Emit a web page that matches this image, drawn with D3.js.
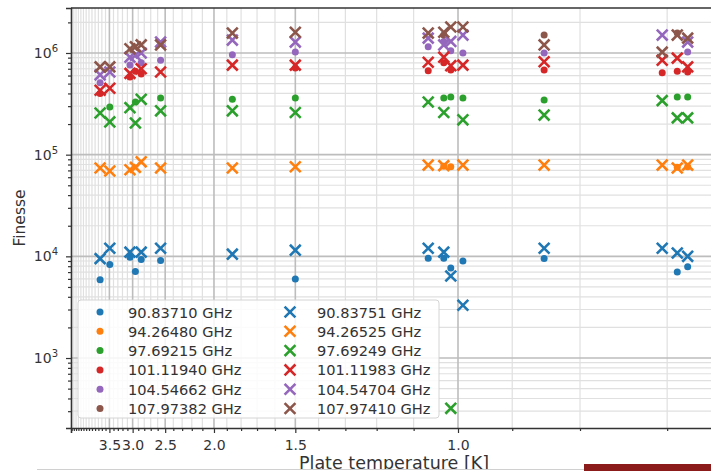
<!DOCTYPE html>
<html>
<head>
<meta charset="utf-8">
<script src="https://cdn.jsdelivr.net/npm/d3@7"></script>
<style>
  body { margin: 0; background: #fff; }
  svg { display: block; font-family: "DejaVu Sans", sans-serif; }
</style>
</head>
<body>
<div id="chart"></div>
<script>
// plate temperatures [K] where the runs were taken
const temps = [3.75, 3.49, 3.05, 2.95, 2.85, 2.56, 1.86, 1.5, 1.065, 1.03, 1.015, 0.99, 0.85, 0.705, 0.69, 0.68];

// finesse per mode, aligned with temps (null = no point)
const dot90  = [5.9e3, 8.3e3, 9.8e3, 7.1e3, 9.3e3, 9.1e3, null, 6.0e3, 9.6e3, 9.6e3, 7.7e3, 9.0e3, 9.5e3, null, 7.0e3, 7.9e3];
const x90    = [9.5e3, 1.2e4, 1.1e4, null, 1.1e4, 1.2e4, 1.05e4, 1.15e4, 1.2e4, 1.1e4, 6.4e3, 3.3e3, 1.2e4, 1.2e4, 1.08e4, 1.0e4];
const dot94  = [null, null, null, null, null, null, null, null, null, 7.7e4, 7.6e4, null, null, null, 7.5e4, 7.6e4];
const x94    = [7.4e4, 6.9e4, 7.1e4, 7.5e4, 8.5e4, 7.4e4, 7.4e4, 7.6e4, 7.9e4, 7.8e4, null, 7.9e4, 7.9e4, 7.9e4, 7.4e4, 7.9e4];
const dot97  = [null, 2.95e5, null, 3.3e5, null, 3.6e5, 3.5e5, 3.6e5, null, 3.6e5, 3.7e5, 3.6e5, 3.45e5, null, 3.7e5, 3.7e5];
const x97    = [2.57e5, 2.1e5, 2.9e5, 2.05e5, 3.5e5, 2.7e5, 2.7e5, 2.6e5, 3.3e5, 2.6e5, 3.2e2, 2.2e5, 2.45e5, 3.4e5, 2.3e5, 2.3e5];
const dot101 = [4.0e5, null, 5.8e5, 6.6e5, 6.2e5, null, null, 7.1e5, 6.7e5, 8.0e5, 6.8e5, null, 6.8e5, 6.4e5, 6.6e5, 6.5e5];
const x101   = [4.3e5, 4.5e5, 6.3e5, null, 7.0e5, 6.5e5, 7.6e5, 7.6e5, 8.1e5, 9.1e5, 7.5e5, 7.6e5, 8.2e5, 8.5e5, 8.9e5, 7.3e5];
const dot104 = [5.1e5, null, 7.6e5, null, 8.0e5, 8.5e5, 9.6e5, 1.02e6, 1.15e6, 1.3e6, 1.05e6, 1.0e6, 1.0e6, null, null, 1.02e6];
const x104   = [6.1e5, 6.5e5, 9.1e5, 9.5e5, 1.0e6, 1.28e6, 1.34e6, 1.28e6, 1.4e6, 1.2e6, 1.3e6, 1.5e6, null, 1.5e6, null, 1.28e6];
const dot107 = [null, null, null, null, null, null, null, null, null, 1.5e6, null, null, 1.5e6, null, 1.57e6, null];
const x107   = [7.3e5, 7.3e5, 1.1e6, 1.15e6, 1.2e6, 1.2e6, 1.57e6, 1.6e6, 1.57e6, 1.6e6, 1.8e6, 1.8e6, 1.2e6, 1.02e6, 1.5e6, 1.4e6];

const dotLabels   = ["90.83710 GHz", "94.26480 GHz", "97.69215 GHz", "101.11940 GHz", "104.54662 GHz", "107.97382 GHz"];
const crossLabels = ["90.83751 GHz", "94.26525 GHz", "97.69249 GHz", "101.11983 GHz", "104.54704 GHz", "107.97410 GHz"];
const dotSeries   = [dot90, dot94, dot97, dot101, dot104, dot107];
const crossSeries = [x90, x94, x97, x101, x104, x107];

const majorT = [3.5, 3.0, 2.5, 2.0, 1.5, 1.0];
const yMajor = [1e3, 1e4, 1e5, 1e6];

const colors = ["#1f77b4", "#ff7f0e", "#2ca02c", "#d62728", "#9467bd", "#8c564b"];

const width = 711, height = 471;
const plot = { left: 71, right: 717, top: 8, bottom: 428 };

const svg = d3.select("#chart").append("svg")
    .attr("width", width)
    .attr("height", height);

// x axis is linear in 1/T, labelled in T
const xScale = d3.scaleLinear()
    .domain([1 / 4.83, 1 / 0.6533])
    .range([plot.left, plot.right]);
const yScale = d3.scaleLog()
    .domain([205, 2.77e6])
    .range([plot.bottom, plot.top]);

const minorT = d3.range(7, 49).map(v => v / 10).filter(t => !majorT.includes(t));
const yMinor = [];
[100, 1e3, 1e4, 1e5, 1e6].forEach(p => {
    for (let k = 2; k <= 9; k++) {
        const v = p * k;
        if (v > 205 && v < 2.77e6) yMinor.push(v);
    }
});

svg.append("defs").append("clipPath")
    .attr("id", "clip")
    .append("rect")
    .attr("x", plot.left)
    .attr("y", plot.top)
    .attr("width", plot.right - plot.left)
    .attr("height", plot.bottom - plot.top);

const grid = svg.append("g").attr("clip-path", "url(#clip)");

grid.selectAll(".vminor")
    .data(minorT)
    .join("line")
    .attr("x1", d => xScale(1 / d)).attr("x2", d => xScale(1 / d))
    .attr("y1", plot.top).attr("y2", plot.bottom)
    .attr("stroke", "#e0e0e0").attr("stroke-width", 1.2);

grid.selectAll(".hminor")
    .data(yMinor)
    .join("line")
    .attr("x1", plot.left).attr("x2", plot.right)
    .attr("y1", d => yScale(d)).attr("y2", d => yScale(d))
    .attr("stroke", "#e0e0e0").attr("stroke-width", 1.2);

grid.selectAll(".vmajor")
    .data(majorT)
    .join("line")
    .attr("x1", d => xScale(1 / d)).attr("x2", d => xScale(1 / d))
    .attr("y1", plot.top).attr("y2", plot.bottom)
    .attr("stroke", "#bdbdbd").attr("stroke-width", 1.6);

grid.selectAll(".hmajor")
    .data(yMajor)
    .join("line")
    .attr("x1", plot.left).attr("x2", plot.right)
    .attr("y1", d => yScale(d)).attr("y2", d => yScale(d))
    .attr("stroke", "#bdbdbd").attr("stroke-width", 1.6);

// points
const marks = svg.append("g").attr("clip-path", "url(#clip)");

dotSeries.forEach((vals, i) => {
    const pts = temps.map((t, j) => [t, vals[j]]).filter(p => p[1] != null);
    marks.append("g").selectAll("circle")
        .data(pts)
        .join("circle")
        .attr("cx", d => xScale(1 / d[0]))
        .attr("cy", d => yScale(d[1]))
        .attr("r", 3.5)
        .attr("fill", colors[i]);
});

const cross = (cx, cy, s) => `M${cx - s},${cy - s}L${cx + s},${cy + s}M${cx - s},${cy + s}L${cx + s},${cy - s}`;

crossSeries.forEach((vals, i) => {
    const pts = temps.map((t, j) => [t, vals[j]]).filter(p => p[1] != null);
    marks.append("g").selectAll("path")
        .data(pts)
        .join("path")
        .attr("d", d => cross(xScale(1 / d[0]), yScale(d[1]), 5.4))
        .attr("stroke", colors[i])
        .attr("stroke-width", 2.6)
        .attr("fill", "none");
});

// axes
const xAxis = svg.append("g")
    .attr("transform", `translate(0,${plot.bottom})`)
    .call(d3.axisBottom(xScale)
        .tickValues(majorT.map(t => 1 / t))
        .tickFormat(d => d3.format(".1f")(1 / d))
        .tickSize(5)
        .tickPadding(7));

svg.append("g")
    .attr("transform", `translate(0,${plot.bottom})`)
    .call(d3.axisBottom(xScale)
        .tickValues(minorT.map(t => 1 / t))
        .tickFormat("")
        .tickSize(3))
    .call(g => g.select(".domain").remove());

const yAxis = svg.append("g")
    .attr("transform", `translate(${plot.left},0)`)
    .call(d3.axisLeft(yScale)
        .tickValues(yMajor)
        .tickFormat("")
        .tickSize(5)
        .tickPadding(8));

svg.append("g")
    .attr("transform", `translate(${plot.left},0)`)
    .call(d3.axisLeft(yScale)
        .tickValues(yMinor)
        .tickFormat("")
        .tickSize(3))
    .call(g => g.select(".domain").remove());

yAxis.selectAll(".tick text")
    .each(function(d) {
        const t = d3.select(this);
        t.text("10");
        t.append("tspan")
            .attr("dy", -6)
            .attr("font-size", 10)
            .text(Math.round(Math.log10(d)));
    });

svg.selectAll(".tick line").attr("stroke", "#333").attr("stroke-width", 1.2);
svg.selectAll(".domain").attr("stroke", "#333").attr("stroke-width", 1.6);
svg.selectAll(".tick text").attr("font-size", 14).attr("fill", "#333")
    .attr("font-family", "DejaVu Sans, sans-serif");

// top spine
svg.append("line")
    .attr("x1", plot.left).attr("x2", plot.right)
    .attr("y1", plot.top).attr("y2", plot.top)
    .attr("stroke", "#333").attr("stroke-width", 1.6);

// axis labels
svg.append("text")
    .attr("transform", `translate(25,${(plot.top + plot.bottom) / 2}) rotate(-90)`)
    .attr("text-anchor", "middle")
    .attr("font-size", 15.5)
    .attr("fill", "#333")
    .text("Finesse");

svg.append("text")
    .attr("x", 394)
    .attr("y", 469)
    .attr("text-anchor", "middle")
    .attr("font-size", 17.5)
    .attr("fill", "#333")
    .text("Plate temperature [K]");

// legend
const legend = svg.append("g").attr("transform", "translate(78,300)");
legend.append("rect")
    .attr("width", 361).attr("height", 118)
    .attr("rx", 3)
    .attr("fill", "#fff").attr("fill-opacity", 0.85)
    .attr("stroke", "#d4d4d4");

dotLabels.forEach((lab, i) => {
    const row = legend.append("g").attr("transform", `translate(0,${12 + i * 19.3})`);
    row.append("circle").attr("cx", 22).attr("cy", 0).attr("r", 3.5).attr("fill", colors[i]);
    row.append("text").attr("x", 50).attr("y", 5.5).attr("font-size", 14.6).attr("fill", "#333").text(lab);
});
crossLabels.forEach((lab, i) => {
    const row = legend.append("g").attr("transform", `translate(0,${12 + i * 19.3})`);
    row.append("path").attr("d", cross(212, 0, 5.4))
        .attr("stroke", colors[i]).attr("stroke-width", 2.6).attr("fill", "none");
    row.append("text").attr("x", 239).attr("y", 5.5).attr("font-size", 14.6).attr("fill", "#333").text(lab);
});

// screenshot bottom strip
svg.append("rect").attr("x", 0).attr("y", 469.5).attr("width", width).attr("height", 2).attr("fill", "#fff");
svg.append("line").attr("x1", 37).attr("x2", width).attr("y1", 469.5).attr("y2", 469.5)
    .attr("stroke", "#d0d0d0").attr("stroke-width", 1);
svg.append("rect").attr("x", 584).attr("y", 464).attr("width", 127).attr("height", 7).attr("fill", "#8b1a1a");
</script>
</body>
</html>
